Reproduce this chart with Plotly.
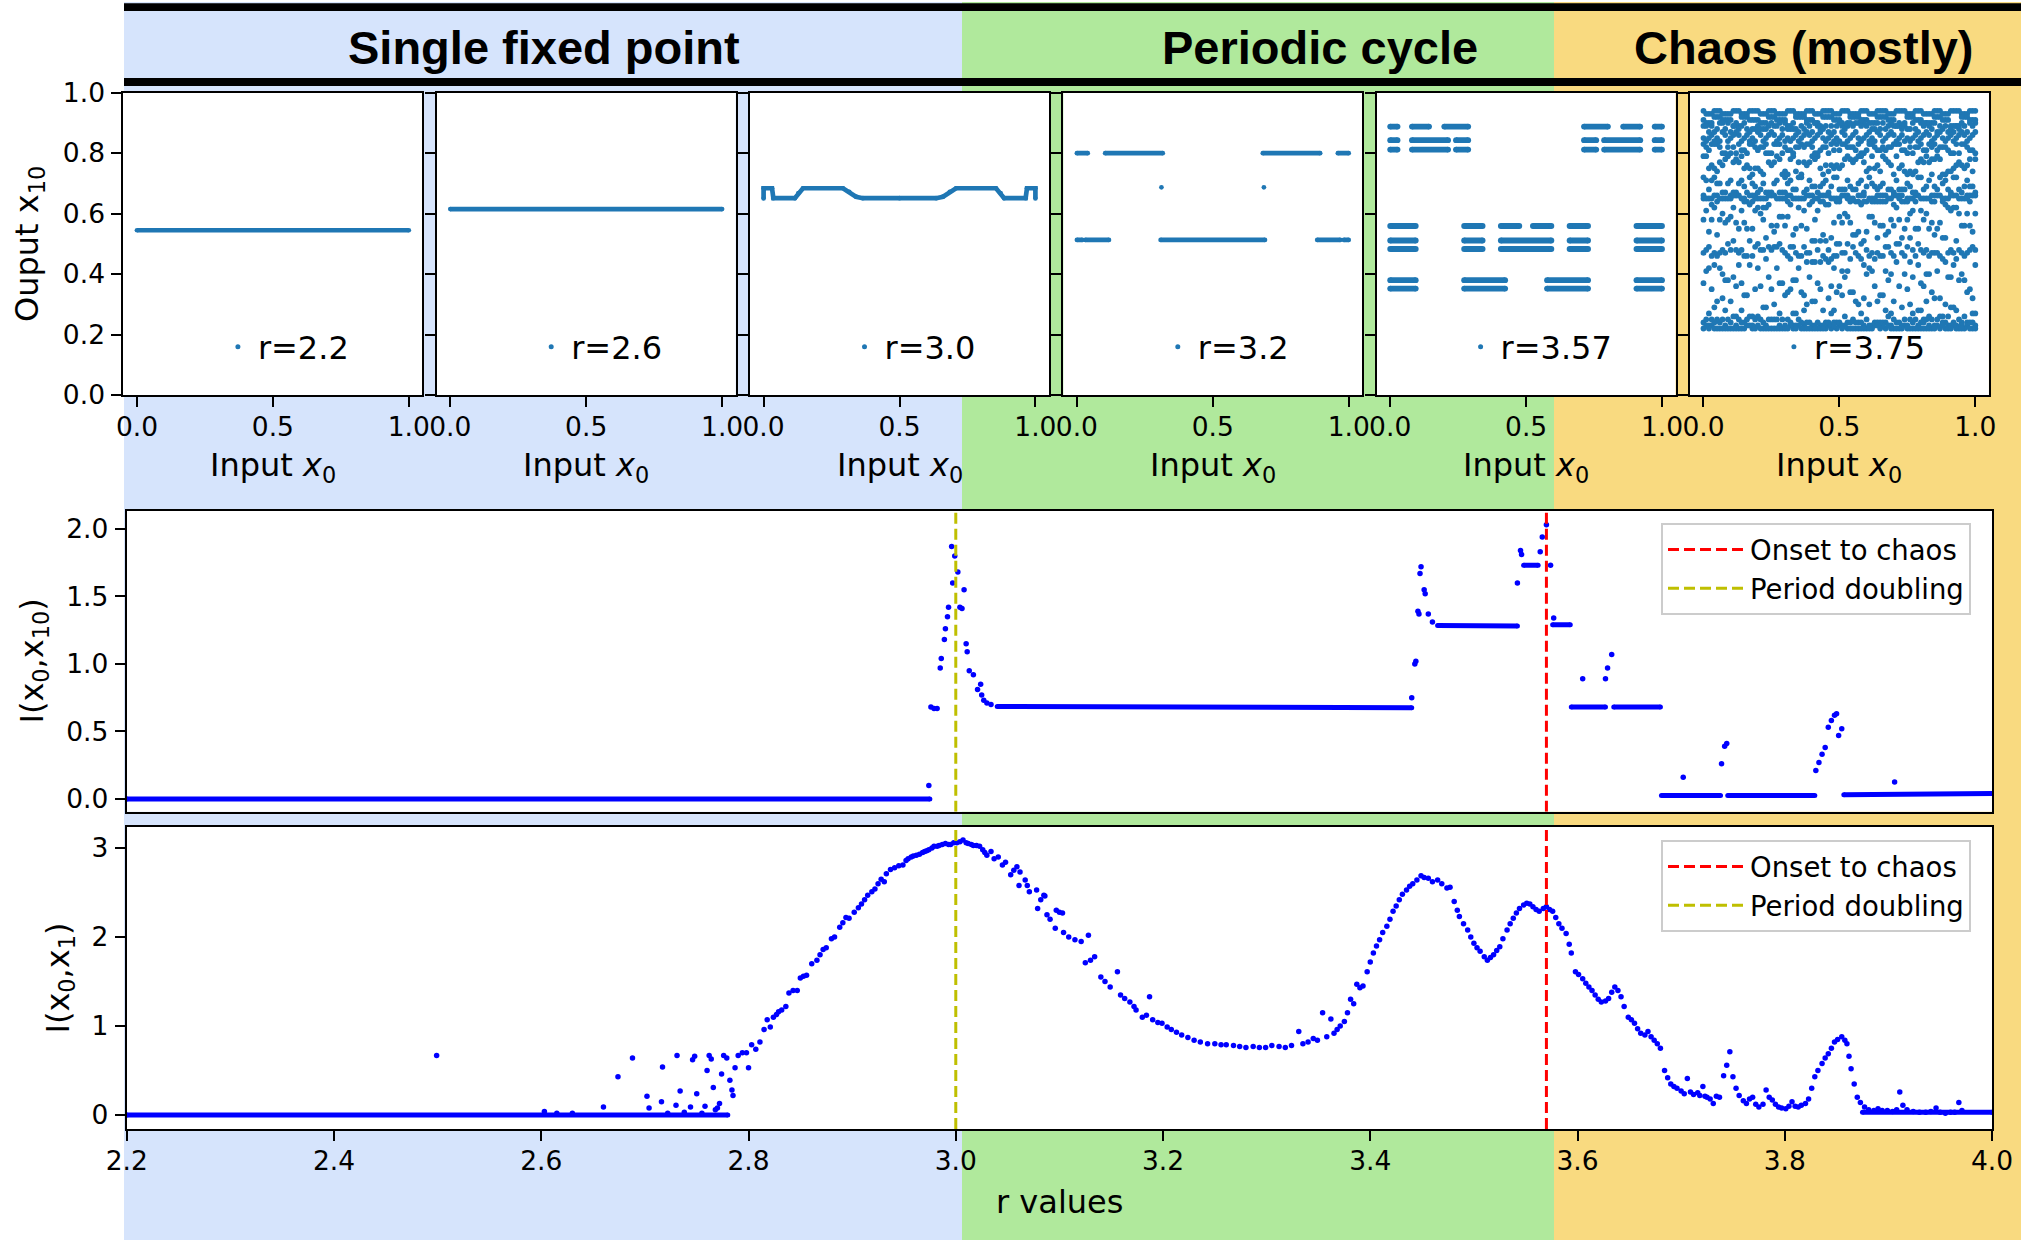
import plotly.graph_objects as go

# ======================= DATA =======================
band_titles = ["Single fixed point", "Periodic cycle", "Chaos (mostly)"]
panel_labels = ["r=2.2", "r=2.6", "r=3.0", "r=3.2", "r=3.57", "r=3.75"]

# --- top row: output x10 versus input x0 ---
fp22_x0 = [0.0, 1.0]
fp22_x10 = [0.545, 0.545]
fp26_x0 = [0.0, 1.0]
fp26_x10 = [0.615, 0.615]

r30_x0 = [0.000, 0.000, 0.031, 0.036, 0.115, 0.128, 0.145, 0.292, 0.315, 0.340, 0.365, 0.500,
          0.635, 0.660, 0.685, 0.708, 0.855, 0.872, 0.885, 0.964, 0.969, 1.000, 1.000]
r30_x10 = [0.650, 0.684, 0.684, 0.651, 0.651, 0.668, 0.684, 0.684, 0.672, 0.656, 0.651, 0.651,
           0.651, 0.656, 0.672, 0.684, 0.684, 0.668, 0.651, 0.651, 0.684, 0.684, 0.650]

r32_seg_start = [0.000, 0.104, 0.684, 0.960, 0.000, 0.031, 0.308, 0.884, 0.982]
r32_seg_end = [0.040, 0.316, 0.895, 1.000, 0.020, 0.118, 0.692, 0.969, 1.000]
r32_seg_x10 = [0.800, 0.800, 0.800, 0.800, 0.513, 0.513, 0.513, 0.513, 0.513]
r32_dot_x0 = [0.311, 0.688]
r32_dot_x10 = [0.687, 0.687]

r357_row_x10 = [0.888, 0.843, 0.812, 0.559, 0.511, 0.483, 0.380, 0.352]
r357_row_spans = [
    [(0.000, 0.027), (0.080, 0.143), (0.199, 0.287), (0.713, 0.801), (0.857, 0.920), (0.973, 1.000)],
    [(0.000, 0.027), (0.080, 0.213), (0.242, 0.287), (0.713, 0.758), (0.787, 0.920), (0.973, 1.000)],
    [(0.000, 0.027), (0.080, 0.213), (0.242, 0.287), (0.713, 0.758), (0.787, 0.920), (0.973, 1.000)],
    [(0.000, 0.094), (0.272, 0.340), (0.407, 0.475), (0.525, 0.593), (0.660, 0.728), (0.906, 1.000)],
    [(0.000, 0.094), (0.272, 0.340), (0.407, 0.593), (0.660, 0.728), (0.906, 1.000)],
    [(0.000, 0.094), (0.272, 0.340), (0.407, 0.593), (0.660, 0.728), (0.906, 1.000)],
    [(0.000, 0.094), (0.272, 0.423), (0.577, 0.728), (0.906, 1.000)],
    [(0.000, 0.094), (0.272, 0.423), (0.577, 0.728), (0.906, 1.000)],
]

# x0 position of each column of estimated x10 values below (r=3.75 cloud)
chaos_x0 = [0.00, 0.37, 0.74, 0.10, 0.47, 0.84, 0.20, 0.57, 0.94, 0.30,
            0.67, 0.03, 0.40, 0.77, 0.13, 0.50, 0.87, 0.23, 0.60, 0.97,
            0.33, 0.70, 0.06, 0.43, 0.80, 0.16, 0.53, 0.90, 0.26, 0.63,
            1.00, 0.36, 0.73, 0.09, 0.46, 0.83, 0.19, 0.56, 0.93, 0.29,
            0.66, 0.02, 0.39, 0.76, 0.12, 0.49, 0.86, 0.22, 0.59, 0.96,
            0.32, 0.69, 0.05, 0.42, 0.79, 0.15, 0.52, 0.89, 0.25, 0.62,
            0.99, 0.35, 0.72, 0.08, 0.45, 0.82, 0.18, 0.55, 0.92, 0.28,
            0.65, 0.01, 0.38, 0.75, 0.11, 0.48, 0.85, 0.21, 0.58, 0.95,
            0.31, 0.68, 0.04, 0.41, 0.78, 0.14, 0.51, 0.88, 0.24, 0.61,
            0.98, 0.34, 0.71, 0.07, 0.44, 0.81, 0.17, 0.54, 0.91, 0.27, 0.64]
chaos_x10_percent = [
    [94, 91, 89, 85, 83, 79, 72, 66, 65, 58, 47, 37, 24, 22],
    [93, 92, 88, 86, 82, 77, 67, 65, 61, 49, 33, 28, 23, 22],
    [94, 90, 89, 84, 81, 74, 68, 64, 55, 46, 40, 25, 23],
    [93, 91, 87, 85, 80, 71, 66, 65, 59, 48, 31, 24, 22],
    [94, 92, 89, 86, 83, 76, 69, 65, 52, 45, 36, 27, 23, 22],
    [93, 90, 88, 84, 82, 78, 73, 66, 64, 57, 47, 34, 25, 22],
    [94, 91, 89, 87, 81, 75, 67, 65, 62, 50, 42, 26, 23],
    [93, 92, 90, 85, 83, 79, 70, 66, 64, 54, 46, 30, 24, 22],
    [94, 89, 88, 86, 80, 77, 68, 65, 60, 48, 38, 25, 22],
    [93, 91, 90, 84, 82, 74, 72, 67, 65, 56, 47, 33, 23, 22],
    [94, 92, 88, 85, 81, 78, 66, 64, 53, 49, 41, 28, 24, 22],
    [93, 90, 89, 86, 83, 76, 71, 65, 63, 58, 46, 35, 25, 23],
    [94, 91, 87, 84, 82, 79, 69, 66, 64, 51, 44, 31, 23, 22],
    [93, 92, 90, 85, 80, 73, 67, 65, 61, 48, 39, 27, 24, 22],
    [94, 89, 88, 86, 83, 77, 70, 66, 55, 47, 43, 25, 22],
    [93, 91, 90, 84, 81, 75, 68, 65, 64, 59, 50, 36, 24, 23],
    [94, 92, 89, 87, 82, 78, 72, 66, 57, 46, 32, 26, 22],
    [93, 90, 88, 85, 83, 80, 67, 65, 62, 52, 45, 29, 23, 22],
    [94, 91, 89, 86, 81, 74, 69, 64, 54, 48, 40, 25, 22],
    [93, 92, 87, 84, 82, 76, 71, 66, 65, 60, 47, 34, 24, 23],
    [94, 90, 88, 85, 80, 79, 68, 65, 53, 49, 38, 27, 23, 22],
    [93, 91, 89, 86, 83, 73, 67, 66, 63, 56, 46, 31, 25, 22],
    [94, 92, 90, 84, 82, 77, 70, 65, 58, 47, 42, 24, 22],
    [93, 89, 88, 87, 81, 75, 69, 66, 64, 51, 44, 35, 23, 22],
    [94, 91, 90, 85, 83, 78, 72, 65, 61, 48, 37, 28, 24, 22],
    [93, 92, 88, 86, 80, 76, 67, 64, 55, 46, 33, 25, 23],
    [94, 90, 89, 84, 82, 79, 71, 66, 65, 59, 50, 41, 24, 22],
    [93, 91, 87, 85, 81, 74, 68, 65, 62, 47, 39, 26, 23, 22],
    [94, 92, 89, 86, 83, 77, 70, 66, 54, 49, 30, 25, 22],
    [93, 90, 88, 84, 82, 75, 69, 65, 64, 57, 45, 36, 24, 23],
    [94, 91, 90, 87, 80, 78, 67, 66, 60, 48, 43, 27, 23, 22],
    [93, 92, 89, 85, 83, 73, 72, 65, 56, 46, 34, 24, 22],
    [94, 89, 88, 86, 81, 76, 68, 66, 64, 52, 47, 29, 23, 22],
    [93, 91, 90, 84, 82, 79, 70, 65, 58, 50, 38, 25, 22],
    [94, 92, 87, 85, 80, 74, 67, 66, 63, 48, 44, 32, 24, 23],
    [93, 90, 89, 86, 83, 77, 71, 65, 55, 46, 40, 26, 23, 22],
    [94, 91, 88, 84, 82, 75, 69, 66, 65, 61, 49, 35, 25, 22],
    [93, 92, 90, 87, 81, 78, 68, 64, 53, 47, 31, 24, 22],
    [94, 89, 89, 85, 83, 76, 72, 66, 62, 51, 45, 28, 23, 22],
    [93, 91, 88, 86, 80, 73, 67, 65, 59, 48, 37, 25, 22],
    [94, 92, 90, 84, 82, 79, 70, 66, 64, 56, 46, 33, 24, 23],
    [93, 90, 87, 85, 81, 75, 68, 65, 54, 49, 42, 27, 23, 22],
    [94, 91, 89, 86, 83, 77, 71, 66, 63, 47, 39, 24, 22],
    [93, 92, 88, 84, 82, 74, 69, 65, 60, 52, 44, 30, 25, 22],
    [94, 89, 90, 87, 80, 78, 67, 66, 57, 48, 36, 26, 23, 22],
    [93, 91, 89, 85, 83, 76, 72, 65, 64, 50, 46, 34, 24, 22],
    [94, 92, 87, 86, 81, 79, 68, 66, 55, 47, 41, 25, 23],
    [93, 90, 88, 84, 82, 73, 70, 65, 62, 58, 48, 29, 24, 22],
    [94, 91, 90, 85, 80, 77, 67, 66, 64, 51, 43, 32, 23, 22],
    [93, 92, 89, 86, 83, 75, 69, 65, 56, 46, 38, 26, 22],
    [94, 89, 88, 84, 81, 78, 71, 66, 63, 49, 45, 35, 24, 23],
    [93, 91, 90, 87, 82, 76, 68, 65, 58, 47, 40, 27, 23, 22],
    [94, 92, 88, 85, 83, 74, 70, 66, 64, 53, 46, 31, 25, 22],
    [93, 90, 89, 86, 80, 79, 67, 65, 61, 48, 37, 24, 22],
    [94, 91, 87, 84, 82, 77, 72, 66, 55, 50, 43, 28, 23, 22],
    [93, 92, 90, 85, 81, 75, 69, 65, 64, 57, 46, 33, 24, 22],
    [94, 89, 88, 86, 83, 78, 68, 66, 60, 47, 39, 26, 23],
    [93, 91, 89, 84, 82, 73, 71, 65, 63, 52, 44, 30, 24, 22],
    [94, 92, 90, 87, 80, 76, 67, 66, 56, 48, 35, 25, 22],
    [93, 90, 88, 85, 83, 79, 70, 65, 64, 59, 47, 41, 23, 22],
    [94, 91, 89, 86, 81, 74, 69, 66, 54, 49, 32, 27, 24, 22],
    [93, 92, 87, 84, 82, 77, 72, 65, 62, 46, 42, 25, 23],
    [94, 89, 90, 85, 83, 75, 68, 66, 65, 58, 50, 36, 24, 22],
    [93, 91, 88, 86, 80, 78, 67, 65, 57, 47, 38, 28, 23, 22],
    [94, 92, 89, 84, 82, 76, 71, 66, 63, 51, 45, 24, 22],
    [93, 90, 90, 87, 81, 79, 69, 65, 60, 48, 40, 31, 25, 22],
    [94, 91, 88, 85, 83, 73, 70, 66, 64, 55, 46, 26, 23, 22],
    [93, 92, 89, 86, 82, 77, 68, 65, 53, 49, 34, 25, 22],
    [94, 89, 87, 84, 80, 75, 72, 66, 62, 47, 43, 29, 24, 23],
    [93, 91, 90, 85, 83, 78, 67, 65, 59, 50, 37, 27, 23, 22],
    [94, 92, 88, 86, 81, 74, 69, 66, 64, 56, 46, 33, 24, 22],
    [93, 90, 89, 84, 82, 79, 71, 65, 61, 48, 41, 25, 23],
    [94, 91, 90, 87, 83, 76, 68, 66, 55, 47, 44, 30, 24, 22],
    [93, 92, 88, 85, 80, 73, 70, 65, 64, 58, 49, 35, 23, 22],
    [94, 89, 89, 86, 82, 77, 67, 66, 62, 51, 39, 26, 22],
    [93, 91, 87, 84, 81, 75, 72, 65, 57, 46, 42, 28, 24, 23],
    [94, 92, 90, 85, 83, 78, 69, 66, 64, 53, 47, 32, 23, 22],
    [93, 90, 88, 86, 82, 74, 68, 65, 60, 48, 36, 25, 22],
    [94, 91, 89, 84, 80, 79, 71, 66, 63, 50, 45, 27, 24, 22],
    [93, 92, 90, 87, 83, 76, 67, 65, 56, 47, 40, 24, 23, 22],
    [94, 89, 88, 85, 81, 73, 70, 66, 64, 59, 46, 34, 25, 22],
    [93, 91, 89, 86, 82, 77, 68, 65, 54, 49, 38, 26, 23],
    [94, 92, 87, 84, 83, 75, 72, 66, 62, 47, 43, 29, 24, 22],
    [93, 90, 90, 85, 80, 78, 69, 65, 58, 51, 44, 31, 23, 22],
    [94, 91, 88, 86, 82, 74, 67, 66, 64, 55, 46, 25, 22],
    [93, 92, 89, 84, 81, 79, 71, 65, 61, 48, 37, 28, 24, 22],
    [94, 89, 90, 87, 83, 76, 68, 66, 57, 47, 41, 33, 23, 22],
    [93, 91, 88, 85, 82, 73, 70, 65, 64, 52, 45, 26, 24, 23],
    [94, 92, 89, 86, 80, 77, 67, 66, 63, 49, 39, 25, 22],
    [93, 90, 87, 84, 83, 75, 72, 65, 59, 46, 42, 30, 23, 22],
    [94, 91, 90, 85, 81, 78, 69, 66, 64, 56, 48, 35, 24, 22],
    [93, 92, 88, 86, 82, 74, 68, 65, 55, 47, 38, 27, 23, 22],
    [94, 89, 89, 84, 83, 79, 71, 66, 62, 50, 44, 24, 22],
    [93, 91, 90, 87, 80, 76, 67, 65, 60, 48, 40, 32, 25, 22],
    [94, 92, 88, 85, 82, 73, 70, 66, 64, 53, 46, 28, 23, 22],
    [93, 90, 89, 86, 81, 77, 68, 65, 58, 47, 36, 25, 24, 22],
    [94, 91, 87, 84, 83, 75, 72, 66, 63, 51, 43, 26, 23],
    [93, 92, 90, 85, 82, 78, 69, 65, 64, 57, 45, 34, 24, 22],
    [94, 89, 88, 86, 80, 74, 67, 66, 61, 48, 39, 29, 23, 22],
    [93, 91, 89, 84, 83, 79, 71, 65, 56, 49, 42, 25, 22],
    [94, 92, 90, 87, 81, 76, 68, 66, 64, 52, 47, 31, 24, 23],
]

# --- middle panel: I(x0, x10) versus r ---
r_onset_chaos = 3.57
r_period_doubling = 3.0
mid_range = [-0.095, 2.135]
mid_seg_r0 = [2.200, 3.040, 3.465, 3.548, 3.576, 3.594, 3.635, 3.681, 3.745, 3.857]
mid_seg_r1 = [2.975, 3.440, 3.542, 3.562, 3.593, 3.627, 3.680, 3.738, 3.829, 4.000]
mid_seg_i0 = [0.000, 0.685, 1.285, 1.730, 1.290, 0.680, 0.680, 0.025, 0.025, 0.030]
mid_seg_i1 = [0.000, 0.675, 1.280, 1.730, 1.290, 0.680, 0.680, 0.025, 0.025, 0.040]
mid_pts_r = [2.974, 2.976, 2.979, 2.982, 2.985, 2.986, 2.989, 2.990, 2.992, 2.993,
             2.996, 2.997, 2.999, 3.002, 3.004, 3.006, 3.008, 3.010, 3.011, 3.013,
             3.017, 3.021, 3.024, 3.025, 3.027, 3.030, 3.034, 3.440, 3.443, 3.444,
             3.446, 3.447, 3.448, 3.449, 3.452, 3.453, 3.456, 3.460, 3.542, 3.545,
             3.546, 3.564, 3.566, 3.570, 3.574, 3.577, 3.605, 3.627, 3.629, 3.633,
             3.702, 3.739, 3.742, 3.744, 3.830, 3.833, 3.836, 3.839, 3.842, 3.845,
             3.848, 3.850, 3.852, 3.855, 3.906]
mid_pts_i = [0.10, 0.68, 0.67, 0.67, 0.97, 1.04, 1.18, 1.26, 1.35, 1.42,
             1.87, 1.60, 1.80, 1.68, 1.42, 1.41, 1.55, 1.15, 1.09, 0.95,
             0.92, 0.81, 0.85, 0.77, 0.73, 0.71, 0.70, 0.75, 1.00, 1.02,
             1.39, 1.37, 1.67, 1.72, 1.55, 1.52, 1.37, 1.31, 1.60, 1.84,
             1.81, 1.83, 1.94, 2.03, 1.73, 1.34, 0.89, 0.89, 0.97, 1.07,
             0.16, 0.26, 0.39, 0.41, 0.21, 0.27, 0.33, 0.38, 0.53, 0.58,
             0.62, 0.63, 0.47, 0.52, 0.125]

# --- bottom panel: I(x0, x1) versus r ---
bot_range = [-0.157, 3.24]
bot_seg_r0 = [2.200, 3.875]
bot_seg_r1 = [2.780, 4.000]
bot_seg_i0 = [0.000, 0.030]
bot_seg_i1 = [0.000, 0.030]
bot_pts_r = [
    2.499, 2.603, 2.615, 2.630, 2.660, 2.674, 2.688, 2.702, 2.704, 2.716,
    2.717, 2.722, 2.730, 2.731, 2.734, 2.738, 2.744, 2.746, 2.748, 2.750,
    2.755, 2.758, 2.760, 2.762, 2.764, 2.766, 2.768, 2.770, 2.772, 2.774,
    2.776, 2.779, 2.782, 2.784, 2.785, 2.787, 2.790, 2.794, 2.798, 2.800,
    2.803, 2.807, 2.811, 2.815, 2.818, 2.821, 2.824, 2.827, 2.829, 2.832,
    2.836, 2.839, 2.843, 2.847, 2.850, 2.853, 2.856, 2.861, 2.866, 2.869,
    2.872, 2.875, 2.880, 2.883, 2.888, 2.891, 2.894, 2.897, 2.902, 2.906,
    2.909, 2.912, 2.915, 2.919, 2.922, 2.925, 2.928, 2.931, 2.933, 2.937,
    2.941, 2.945, 2.949, 2.952, 2.954, 2.957, 2.959, 2.962, 2.965, 2.968,
    2.970, 2.972, 2.974, 2.977, 2.979, 2.982, 2.984, 2.987, 2.990, 2.993,
    2.995, 2.998, 3.001, 3.004, 3.007, 3.010, 3.012, 3.015, 3.017, 3.020,
    3.023, 3.026, 3.028, 3.030, 3.034, 3.037, 3.041, 3.045, 3.048, 3.053,
    3.056, 3.059, 3.061, 3.062, 3.067, 3.069, 3.071, 3.078, 3.079, 3.082,
    3.085, 3.086, 3.088, 3.091, 3.096, 3.097, 3.100, 3.103, 3.104, 3.109,
    3.115, 3.121, 3.125, 3.128, 3.130, 3.134, 3.140, 3.144, 3.149, 3.156,
    3.159, 3.163, 3.168, 3.172, 3.174, 3.180, 3.184, 3.187, 3.190, 3.195,
    3.199, 3.204, 3.208, 3.213, 3.218, 3.224, 3.230, 3.236, 3.243, 3.250,
    3.256, 3.261, 3.268, 3.274, 3.280, 3.287, 3.293, 3.299, 3.305, 3.312,
    3.318, 3.324, 3.331, 3.335, 3.340, 3.345, 3.349, 3.354, 3.358, 3.362,
    3.365, 3.368, 3.371, 3.375, 3.378, 3.381, 3.384, 3.387, 3.390, 3.393,
    3.397, 3.400, 3.403, 3.406, 3.409, 3.412, 3.416, 3.419, 3.422, 3.425,
    3.428, 3.431, 3.435, 3.438, 3.441, 3.445, 3.449, 3.452, 3.456, 3.460,
    3.465, 3.469, 3.474, 3.477, 3.481, 3.484, 3.486, 3.490, 3.494, 3.497,
    3.500, 3.503, 3.506, 3.510, 3.513, 3.516, 3.519, 3.522, 3.525, 3.528,
    3.532, 3.535, 3.538, 3.541, 3.544, 3.548, 3.551, 3.554, 3.557, 3.560,
    3.563, 3.567, 3.570, 3.573, 3.576, 3.579, 3.582, 3.585, 3.589, 3.592,
    3.594, 3.598, 3.601, 3.605, 3.608, 3.611, 3.614, 3.617, 3.620, 3.623,
    3.627, 3.630, 3.633, 3.636, 3.639, 3.642, 3.645, 3.649, 3.652, 3.655,
    3.658, 3.661, 3.665, 3.668, 3.671, 3.674, 3.677, 3.680, 3.684, 3.687,
    3.690, 3.693, 3.696, 3.700, 3.703, 3.706, 3.709, 3.712, 3.716, 3.718,
    3.721, 3.723, 3.725, 3.728, 3.731, 3.734, 3.737, 3.741, 3.744, 3.747,
    3.750, 3.753, 3.756, 3.760, 3.763, 3.766, 3.769, 3.772, 3.775, 3.779,
    3.782, 3.785, 3.788, 3.791, 3.794, 3.797, 3.801, 3.804, 3.807, 3.810,
    3.813, 3.816, 3.820, 3.823, 3.826, 3.829, 3.832, 3.836, 3.839, 3.842,
    3.845, 3.848, 3.851, 3.855, 3.858, 3.860, 3.862, 3.864, 3.867, 3.870,
    3.873, 3.877, 3.881, 3.886, 3.890, 3.894, 3.899, 3.904, 3.908, 3.911,
    3.914, 3.918, 3.924, 3.930, 3.936, 3.941, 3.946, 3.950, 3.955, 3.960,
    3.964, 3.968, 3.971]
bot_pts_i = [
    0.67, 0.04, 0.02, 0.02, 0.09, 0.43, 0.64, 0.21, 0.08, 0.15,
    0.54, 0.02, 0.11, 0.67, 0.27, 0.03, 0.09, 0.62, 0.66, 0.24,
    0.02, 0.10, 0.50, 0.67, 0.63, 0.31, 0.06, 0.08, 0.13, 0.46,
    0.67, 0.64, 0.39, 0.28, 0.22, 0.53, 0.67, 0.70, 0.70, 0.53,
    0.79, 0.74, 0.82, 0.96, 1.07, 0.99, 1.10, 1.13, 1.16, 1.18,
    1.22, 1.37, 1.40, 1.40, 1.54, 1.56, 1.57, 1.70, 1.74, 1.80,
    1.86, 1.88, 1.98, 2.00, 2.11, 2.16, 2.22, 2.21, 2.28, 2.33,
    2.37, 2.42, 2.47, 2.51, 2.54, 2.60, 2.65, 2.62, 2.71, 2.76,
    2.78, 2.80, 2.81, 2.86, 2.88, 2.90, 2.91, 2.92, 2.93, 2.95,
    2.96, 2.97, 2.98, 3.00, 3.02, 3.02, 3.03, 3.04, 3.05, 3.04,
    3.04, 3.06, 3.06, 3.07, 3.09, 3.06, 3.05, 3.04, 3.03, 3.03,
    3.02, 2.98, 2.95, 2.92, 2.96, 2.88, 2.90, 2.81, 2.84, 2.70,
    2.75, 2.79, 2.58, 2.73, 2.64, 2.58, 2.51, 2.53, 2.32, 2.42,
    2.47, 2.46, 2.25, 2.20, 2.10, 2.30, 2.28, 2.27, 2.05, 2.00,
    1.97, 1.95, 1.71, 2.02, 1.74, 1.78, 1.55, 1.50, 1.44, 1.61,
    1.35, 1.31, 1.27, 1.22, 1.18, 1.10, 1.12, 1.33, 1.07, 1.04,
    1.03, 0.99, 0.96, 0.93, 0.90, 0.87, 0.84, 0.82, 0.80, 0.80,
    0.79, 0.79, 0.78, 0.77, 0.76, 0.77, 0.76, 0.76, 0.78, 0.77,
    0.76, 0.78, 0.94, 0.80, 0.82, 0.86, 0.84, 1.15, 0.88, 1.08,
    0.92, 0.96, 1.00, 1.05, 1.15, 1.30, 1.25, 1.47, 1.43, 1.45,
    1.61, 1.72, 1.82, 1.90, 1.97, 2.05, 2.12, 2.20, 2.29, 2.35,
    2.42, 2.48, 2.53, 2.57, 2.60, 2.64, 2.69, 2.67, 2.66, 2.62,
    2.64, 2.60, 2.55, 2.56, 2.40, 2.30, 2.23, 2.15, 2.08, 2.00,
    1.93, 1.88, 1.84, 1.78, 1.74, 1.77, 1.80, 1.85, 1.89, 1.98,
    2.08, 2.15, 2.21, 2.27, 2.32, 2.36, 2.38, 2.37, 2.34, 2.31,
    2.29, 2.32, 2.34, 2.31, 2.29, 2.22, 2.15, 2.10, 2.04, 1.92,
    1.82, 1.61, 1.58, 1.53, 1.48, 1.44, 1.40, 1.35, 1.30, 1.27,
    1.28, 1.31, 1.38, 1.44, 1.40, 1.33, 1.22, 1.10, 1.07, 1.03,
    0.97, 0.92, 0.90, 0.94, 0.88, 0.84, 0.80, 0.75, 0.50, 0.42,
    0.35, 0.32, 0.30, 0.27, 0.24, 0.41, 0.26, 0.23, 0.25, 0.22,
    0.32, 0.21, 0.20, 0.18, 0.13, 0.21, 0.20, 0.44, 0.56, 0.71,
    0.43, 0.30, 0.22, 0.16, 0.13, 0.18, 0.20, 0.12, 0.09, 0.12,
    0.28, 0.20, 0.17, 0.12, 0.09, 0.08, 0.07, 0.10, 0.15, 0.10,
    0.09, 0.11, 0.13, 0.18, 0.30, 0.43, 0.50, 0.58, 0.64, 0.69,
    0.75, 0.82, 0.85, 0.88, 0.84, 0.80, 0.66, 0.52, 0.35, 0.20,
    0.14, 0.09, 0.06, 0.05, 0.07, 0.05, 0.05, 0.04, 0.06, 0.26,
    0.11, 0.06, 0.04, 0.03, 0.03, 0.04, 0.08, 0.03, 0.02, 0.03,
    0.03, 0.14, 0.05]

# ======================= STYLE / LAYOUT =======================
FONT = "DejaVu Sans"
C_TAB = "#1f77b4"
C_BLUE = "#0000ff"
W, H = 2028, 1240


def fx(p):
    return p / W


def fy(p):
    return 1 - p / H


TOP_L0, TOP_PITCH, TOP_W = 123.4, 313.3, 299.0
TOP_T, TOP_B = 92.7, 395.0
BIG_L, BIG_R = 126.8, 1992.0
MID_T, MID_B = 510.7, 811.7
BOT_T, BOT_B = 826.7, 1129.0


def segs(starts, ends, y0s, y1s):
    xs, ys = [], []
    for a, b, c, d in zip(starts, ends, y0s, y1s):
        xs += [a, b, None]
        ys += [c, d, None]
    return xs, ys


fig = go.Figure()
ax_sfx = ["", "2", "3", "4", "5", "6"]
leg_ids = ["legend", "legend2", "legend3", "legend4", "legend5", "legend6"]
LW = 4.7


def add_line(k, xs, ys, width=LW):
    fig.add_trace(go.Scatter(x=xs, y=ys, mode="lines+markers",
                             line=dict(color=C_TAB, width=width),
                             marker=dict(color=C_TAB, size=width),
                             showlegend=False, hoverinfo="skip",
                             xaxis="x" + ax_sfx[k], yaxis="y" + ax_sfx[k]))


def add_legend_dot(k):
    fig.add_trace(go.Scatter(x=[None], y=[None], mode="markers",
                             marker=dict(color=C_TAB, size=5),
                             name=panel_labels[k], legend=leg_ids[k], showlegend=True,
                             xaxis="x" + ax_sfx[k], yaxis="y" + ax_sfx[k]))


add_line(0, fp22_x0, fp22_x10)
add_legend_dot(0)
add_line(1, fp26_x0, fp26_x10)
add_legend_dot(1)
add_line(2, r30_x0, r30_x10)
add_legend_dot(2)

xs, ys = segs(r32_seg_start, r32_seg_end, r32_seg_x10, r32_seg_x10)
add_line(3, xs, ys)
fig.add_trace(go.Scatter(x=r32_dot_x0, y=r32_dot_x10, mode="markers",
                         marker=dict(color=C_TAB, size=LW), showlegend=False,
                         xaxis="x4", yaxis="y4"))
add_legend_dot(3)

xs, ys = [], []
for yv, spans in zip(r357_row_x10, r357_row_spans):
    for a, b in spans:
        xs += [a, b, None]
        ys += [yv, yv, None]
add_line(4, xs, ys, width=5.8)
add_legend_dot(4)

cx, cy = [], []
for x0, col in zip(chaos_x0, chaos_x10_percent):
    for v in col:
        cx.append(x0)
        cy.append(v / 100.0)
fig.add_trace(go.Scatter(x=cx, y=cy, mode="markers",
                         marker=dict(color=C_TAB, size=5.8, line=dict(width=0)),
                         showlegend=False, xaxis="x6", yaxis="y6"))
add_legend_dot(5)

# middle panel
xs, ys = segs(mid_seg_r0, mid_seg_r1, mid_seg_i0, mid_seg_i1)
fig.add_trace(go.Scatter(x=xs, y=ys, mode="lines+markers", line=dict(color=C_BLUE, width=5),
                         marker=dict(color=C_BLUE, size=5), showlegend=False,
                         xaxis="x7", yaxis="y7"))
fig.add_trace(go.Scatter(x=mid_pts_r, y=mid_pts_i, mode="markers",
                         marker=dict(color=C_BLUE, size=5.5), showlegend=False,
                         xaxis="x7", yaxis="y7"))
# bottom panel
xs, ys = segs(bot_seg_r0, bot_seg_r1, bot_seg_i0, bot_seg_i1)
fig.add_trace(go.Scatter(x=xs, y=ys, mode="lines+markers", line=dict(color=C_BLUE, width=5),
                         marker=dict(color=C_BLUE, size=5), showlegend=False,
                         xaxis="x8", yaxis="y8"))
fig.add_trace(go.Scatter(x=bot_pts_r, y=bot_pts_i, mode="markers",
                         marker=dict(color=C_BLUE, size=5.5), showlegend=False,
                         xaxis="x8", yaxis="y8"))

for ax, leg, yr in (("7", "legend7", mid_range), ("8", "legend8", bot_range)):
    fig.add_trace(go.Scatter(x=[r_onset_chaos, r_onset_chaos], y=yr, mode="lines",
                             line=dict(color="#ff0000", width=3, dash="11px,5px"),
                             name="Onset to chaos", legend=leg, showlegend=True,
                             xaxis="x" + ax, yaxis="y" + ax))
    fig.add_trace(go.Scatter(x=[r_period_doubling, r_period_doubling], y=yr, mode="lines",
                             line=dict(color="#bfbf00", width=3, dash="11px,5px"),
                             name="Period doubling", legend=leg, showlegend=True,
                             xaxis="x" + ax, yaxis="y" + ax))

axis_common = dict(showline=True, mirror=True, linecolor="black", linewidth=2.2,
                   ticks="outside", ticklen=10, tickwidth=2, tickcolor="black",
                   showgrid=False, zeroline=False,
                   tickfont=dict(family=FONT, size=26.5, color="black"))
xax_common = dict(axis_common, ticklabelstandoff=-3)
yax_common = dict(axis_common, ticklabelstandoff=1)

layout = dict(width=W, height=H, margin=dict(l=0, r=0, t=0, b=0), autosize=False,
              paper_bgcolor="white", plot_bgcolor="white", template="none",
              font=dict(family=FONT, color="black"))

for k in range(6):
    left = TOP_L0 + k * TOP_PITCH
    s = ax_sfx[k]
    layout["xaxis" + s] = dict(xax_common, domain=[fx(left), fx(left + TOP_W)], range=[-0.05, 1.05],
                               anchor="y" + s, tickvals=[0, 0.5, 1],
                               ticktext=["0.0", "0.5", "1.0"])
    layout["yaxis" + s] = dict(yax_common, domain=[fy(TOP_B), fy(TOP_T)], range=[0, 1], anchor="x" + s,
                               tickvals=[0, 0.2, 0.4, 0.6, 0.8, 1.0],
                               ticktext=["0.0", "0.2", "0.4", "0.6", "0.8", "1.0"],
                               showticklabels=(k == 0))
    layout[leg_ids[k]] = dict(x=fx(left + TOP_W / 2 + 13), xanchor="center",
                              y=fy(347), yanchor="middle", bgcolor="rgba(0,0,0,0)",
                              borderwidth=0, font=dict(family=FONT, size=32, color="black"))

layout["xaxis7"] = dict(xax_common, domain=[fx(BIG_L), fx(BIG_R)], range=[2.2, 4.0], anchor="y7",
                        ticks="", showticklabels=False)
layout["yaxis7"] = dict(yax_common, domain=[fy(MID_B), fy(MID_T)], range=mid_range, anchor="x7",
                        tickvals=[0, 0.5, 1.0, 1.5, 2.0],
                        ticktext=["0.0", "0.5", "1.0", "1.5", "2.0"])
layout["xaxis8"] = dict(xax_common, domain=[fx(BIG_L), fx(BIG_R)], range=[2.2, 4.0], anchor="y8",
                        tickvals=[2.2, 2.4, 2.6, 2.8, 3.0, 3.2, 3.4, 3.6, 3.8, 4.0],
                        ticktext=["2.2", "2.4", "2.6", "2.8", "3.0", "3.2", "3.4", "3.6", "3.8", "4.0"])
layout["yaxis8"] = dict(yax_common, domain=[fy(BOT_B), fy(BOT_T)], range=bot_range, anchor="x8",
                        tickvals=[0, 1, 2, 3], ticktext=["0", "1", "2", "3"])
for key, top in (("legend7", 523), ("legend8", 840)):
    layout[key] = dict(x=fx(1661), xanchor="left", y=fy(top), yanchor="top",
                       bgcolor="rgba(255,255,255,0.85)", bordercolor="#cccccc", borderwidth=2,
                       font=dict(family=FONT, size=27.5, color="black"), itemwidth=77)

# background bands, header bars, white plot areas
shapes = []
for x0, x1, col in ((124, 962, "#d6e4fc"), (962, 1554, "#b0e99c"), (1554, 2021, "#f9da80")):
    shapes.append(dict(type="rect", xref="paper", yref="paper", x0=fx(x0), x1=fx(x1),
                       y0=fy(1240), y1=fy(2), fillcolor=col, line=dict(width=0), layer="below"))
for y0, y1 in ((3.3, 11), (78, 86)):
    shapes.append(dict(type="rect", xref="paper", yref="paper", x0=fx(124), x1=fx(2021),
                       y0=fy(y1), y1=fy(y0), fillcolor="black", line=dict(width=0), layer="below"))
panels = [(TOP_L0 + k * TOP_PITCH, TOP_L0 + k * TOP_PITCH + TOP_W, TOP_T, TOP_B) for k in range(6)]
panels += [(BIG_L, BIG_R, MID_T, MID_B), (BIG_L, BIG_R, BOT_T, BOT_B)]
for l, r, t, b in panels:
    shapes.append(dict(type="rect", xref="paper", yref="paper", x0=fx(l), x1=fx(r),
                       y0=fy(b), y1=fy(t), fillcolor="white", line=dict(width=0), layer="below"))
layout["shapes"] = shapes

ann = []
for t, cxp in zip(band_titles, (543.5, 1320, 1804)):
    ann.append(dict(text="<b>%s</b>" % t, x=fx(cxp), y=fy(47.5), xref="paper", yref="paper",
                    showarrow=False, xanchor="center", yanchor="middle",
                    font=dict(family="Liberation Sans", size=47, color="black")))
for k in range(6):
    ann.append(dict(text="Input <i>x</i><sub>0</sub>", x=fx(TOP_L0 + k * TOP_PITCH + TOP_W / 2),
                    y=fy(467), xref="paper", yref="paper", showarrow=False,
                    xanchor="center", yanchor="middle", font=dict(family=FONT, size=32)))
ann.append(dict(text="r values", x=fx((BIG_L + BIG_R) / 2), y=fy(1202), xref="paper", yref="paper",
                showarrow=False, xanchor="center", yanchor="middle", font=dict(family=FONT, size=32)))
for txt, cxp, cyp in (("Ouput x<sub>10</sub>", 29, 244),
                      ("I(x<sub>0</sub>,x<sub>10</sub>)", 33.5, 661),
                      ("I(x<sub>0</sub>,x<sub>1</sub>)", 59.5, 978)):
    ann.append(dict(text=txt, x=fx(cxp), y=fy(cyp), xref="paper", yref="paper", showarrow=False,
                    textangle=-90, xanchor="center", yanchor="middle",
                    font=dict(family=FONT, size=32)))
layout["annotations"] = ann

fig.update_layout(**layout)
fig.write_html("out.html", config={"displayModeBar": False},
               post_script="document.body.style.margin='0px';document.body.style.overflow='hidden';")
